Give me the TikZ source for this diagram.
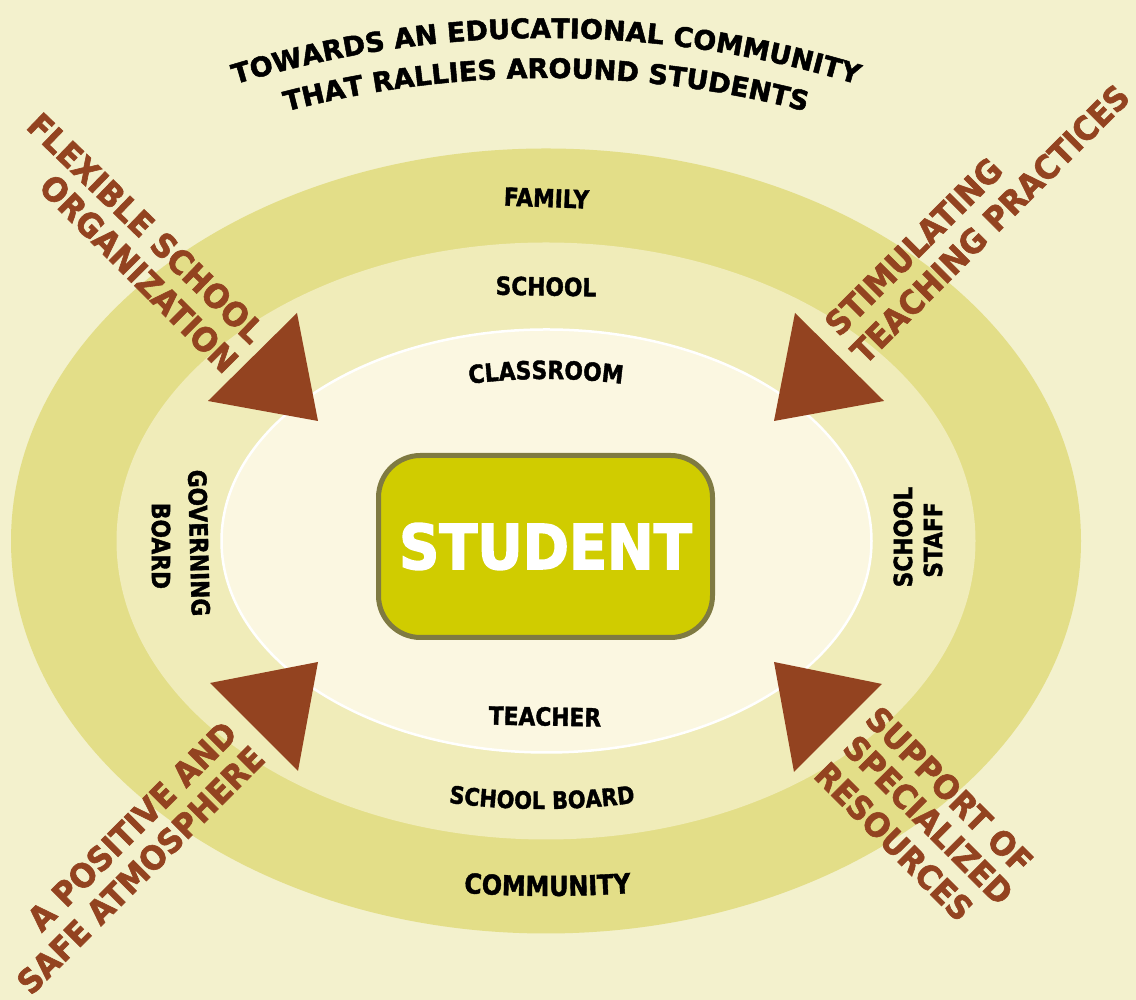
\documentclass[tikz,border=0pt]{standalone}
\usepackage{fontspec}
\usetikzlibrary{decorations.text}
\newfontfamily\ttlfont{DejaVu Sans}[FakeBold=1.8]
\newfontfamily\labfont{DejaVu Sans}[FakeStretch=0.87, FakeBold=1.5]
\newfontfamily\brnfont{DejaVu Sans}[FakeStretch=0.93, FakeBold=1.8]
\newfontfamily\stdfont{DejaVu Sans}[FakeStretch=0.9, FakeBold=2.5]
\definecolor{bgc}{HTML}{F3F1CD}
\definecolor{ringA}{HTML}{E3DE88}
\definecolor{ringB}{HTML}{F0ECB9}
\definecolor{ringC}{HTML}{FBF7E1}
\definecolor{brn}{HTML}{934320}
\definecolor{stdfill}{HTML}{D0CC00}
\definecolor{stdborder}{HTML}{7F7A42}
\newcommand\labsz[1]{\labfont\bfseries\fontsize{#1}{#1}\selectfont}
\begin{document}
\begin{tikzpicture}[x=1pt,y=1pt,
  lab/.style={font=\labsz{25}, inner sep=0pt},
  brnlab/.style={font=\brnfont\bfseries\fontsize{33}{33}\selectfont, text=brn, inner sep=0pt},
  tri/.style={fill=brn},
  arctext/.style={decorate, decoration={text along path, text align=center, text={#1}}}
]
\useasboundingbox (0,0) rectangle (1136,1000);
\fill[bgc] (0,0) rectangle (1136,1000);
% rings
\fill[ringA] (546,459) ellipse [x radius=535pt, y radius=392.5pt];
\fill[ringB] (546,459) ellipse [x radius=429.5pt, y radius=298.5pt];
\filldraw[fill=ringC, draw=white, line width=2.5pt] (546.5,459) ellipse [x radius=325pt, y radius=211.5pt];
% title
\path[arctext={|\ttlfont\bfseries\fontsize{27}{27}\selectfont|TOWARDS AN EDUCATIONAL COMMUNITY}]
  (546,-105) ++(110:1067pt) arc[start angle=110, end angle=70, radius=1067pt];
\path[arctext={|\ttlfont\bfseries\fontsize{27}{27}\selectfont|THAT RALLIES AROUND STUDENTS}]
  (546,-105) ++(110:1027pt) arc[start angle=110, end angle=70, radius=1027pt];
% ring labels
\node[lab, rotate=-2] (family) at (546.5,802) {FAMILY};
\node[lab, rotate=-1] (school) at (546,713.5) {SCHOOL};
\path[arctext={|\labsz{25}|CLASSROOM}]
  (546,21) ++(100:600pt) arc[start angle=100, end angle=80, radius=600pt];
\node[lab, rotate=-1] (teacher) at (545,283.5) {TEACHER};
\path[arctext={|\labsz{24}|SCHOOL BOARD}]
  (542,891) ++(260:700pt) arc[start angle=260, end angle=280, radius=700pt];
\path[arctext={|\labsz{27.5}|COMMUNITY}]
  (547.5,1254) ++(265:1150pt) arc[start angle=265, end angle=275, radius=1150pt];
\node[lab, rotate=-88.5] (governing) at (199,457) {GOVERNING};
\node[lab, rotate=-90] (board) at (161,454) {BOARD};
\node[lab, rotate=90] (schoolst) at (903,463) {SCHOOL};
\node[lab, rotate=90] (staff) at (933,460) {STAFF};
% student
\node[draw=stdborder, line width=5pt, fill=stdfill, rounded corners=42pt,
      minimum width=334pt, minimum height=182pt, inner sep=0pt, text=white,
      font=\stdfont\bfseries\fontsize{62}{62}\selectfont] (student) at (545.5,453.5) {STUDENT};
% triangles
\fill[tri] (297,687) -- (208,599) -- (318,579) -- cycle;
\fill[tri] (795,687) -- (884,599) -- (774,579) -- cycle;
\fill[tri] (318,338) -- (210,317) -- (298,229) -- cycle;
\fill[tri] (774,338) -- (882,316) -- (794,228) -- cycle;
% brown labels
\node[brnlab, rotate=-44] (flex1) at (146,772) {FLEXIBLE SCHOOL};
\node[brnlab, rotate=-45] (flex2) at (139,726.5) {ORGANIZATION};
\node[brnlab, rotate=45] (stim1) at (913.5,753.5) {STIMULATING};
\node[brnlab, rotate=45] (stim2) at (990,776) {TEACHING PRACTICES};
\node[brnlab, rotate=45] (pos1) at (132,174) {A POSITIVE AND};
\node[brnlab, rotate=45] (pos2) at (140.5,130) {SAFE ATMOSPHERE};
\node[brnlab, rotate=-45] (sup1) at (949.5,210) {SUPPORT OF};
\node[brnlab, rotate=-45] (sup2) at (928.5,180) {SPECIALIZED};
\node[brnlab, rotate=-45] (sup3) at (894,158.5) {RESOURCES};
\end{tikzpicture}
\end{document}
